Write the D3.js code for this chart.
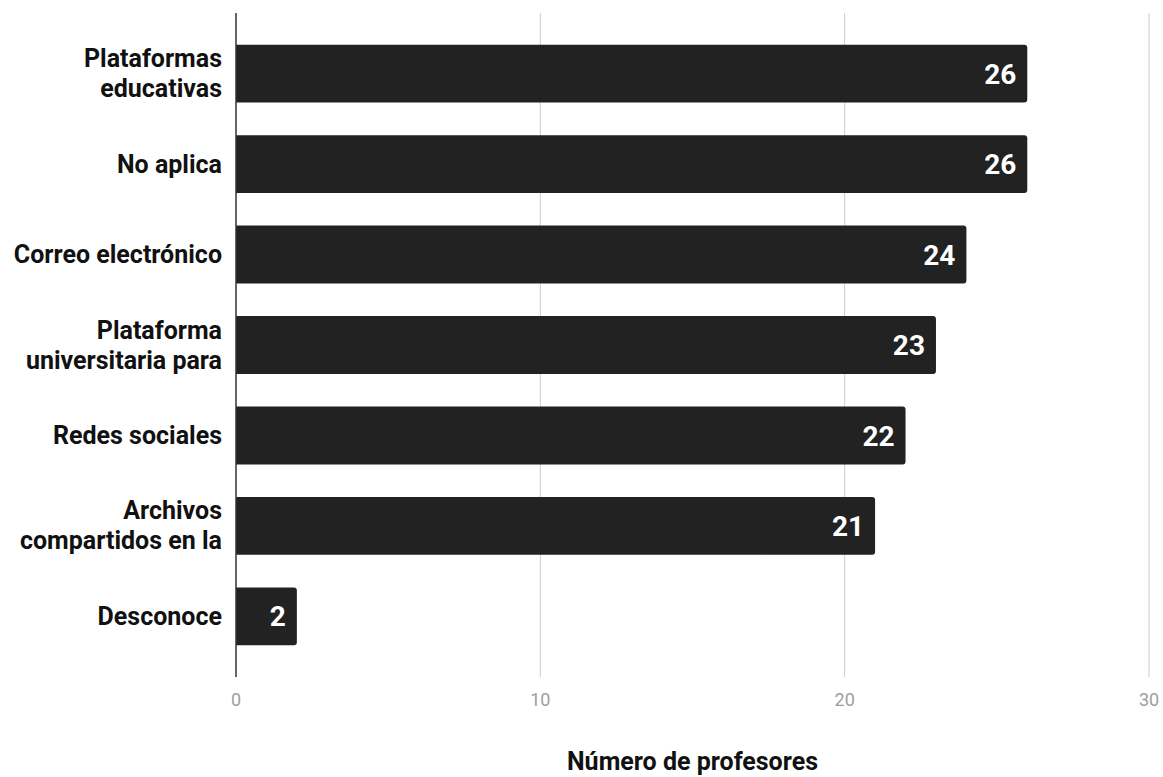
<!DOCTYPE html>
<html>
<head>
<meta charset="utf-8">
<script src="https://cdn.jsdelivr.net/npm/d3@7"></script>
<style>
  html, body { margin: 0; padding: 0; background: #fff; }
  svg { display: block; font-family: Roboto, "Noto Sans", sans-serif; }
</style>
</head>
<body>
<svg id="chart" width="1163" height="777"></svg>
<script>
// Categories (each entry holds the wrapped lines of its label)
const categories = [
  ["Plataformas", "educativas"],
  ["No aplica"],
  ["Correo electrónico"],
  ["Plataforma", "universitaria para"],
  ["Redes sociales"],
  ["Archivos", "compartidos en la"],
  ["Desconoce"]
];
const values = [26, 26, 24, 23, 22, 21, 2];
const xTicks = [0, 10, 20, 30];
const xTitle = "Número de profesores";

(function draw() {
  const svg = d3.select("#chart");
  const plotLeft = 236, plotRight = 1149, plotTop = 13, plotBottom = 677;

  const x = d3.scaleLinear().domain([0, 30]).range([plotLeft, plotRight]);
  const y = d3.scaleBand()
    .domain(d3.range(categories.length))
    .range([plotTop, plotBottom])
    .paddingInner(0.36)
    .paddingOuter(0.35);

  // Vertical gridlines
  svg.append("g")
    .selectAll("line")
    .data(xTicks.filter(t => t !== 0))
    .join("line")
    .attr("x1", d => x(d)).attr("x2", d => x(d))
    .attr("y1", plotTop).attr("y2", plotBottom)
    .attr("stroke", "#cccccc")
    .attr("stroke-width", 1);

  // Bars with rounded right end
  const r = 3;
  function barPath(d, i) {
    const x0 = x(0), x1 = x(d), y0 = y(i), h = y.bandwidth();
    return `M${x0},${y0}H${x1 - r}Q${x1},${y0} ${x1},${y0 + r}V${y0 + h - r}Q${x1},${y0 + h} ${x1 - r},${y0 + h}H${x0}Z`;
  }
  svg.append("g")
    .selectAll("path")
    .data(values)
    .join("path")
    .attr("d", barPath)
    .attr("fill", "#222222");

  // Value labels inside bar ends
  svg.append("g")
    .selectAll("text")
    .data(values)
    .join("text")
    .attr("x", d => x(d) - 11)
    .attr("y", (d, i) => y(i) + y.bandwidth() / 2)
    .attr("dy", "0.36em")
    .attr("text-anchor", "end")
    .attr("fill", "#ffffff")
    .attr("font-weight", 700)
    .attr("font-size", 28)
    .text(d => d);

  // Category labels
  const lineH = 30;
  const catG = svg.append("g");
  categories.forEach((lines, i) => {
    const cy = y(i) + y.bandwidth() / 2;
    const t = catG.append("text")
      .attr("x", 222)
      .attr("text-anchor", "end")
      .attr("fill", "#111111")
      .attr("font-weight", 700)
      .attr("font-size", 25);
    lines.forEach((ln, k) => {
      t.append("tspan")
        .attr("x", 222)
        .attr("y", cy + (k - (lines.length - 1) / 2) * lineH)
        .attr("dy", "0.34em")
        .text(ln);
    });
  });

  // Category axis line
  svg.append("line")
    .attr("x1", plotLeft).attr("x2", plotLeft)
    .attr("y1", plotTop).attr("y2", plotBottom)
    .attr("stroke", "#333333")
    .attr("stroke-width", 1.5);

  // X tick labels
  svg.append("g")
    .selectAll("text")
    .data(xTicks)
    .join("text")
    .attr("x", d => x(d))
    .attr("y", 700)
    .attr("dy", "0.36em")
    .attr("text-anchor", "middle")
    .attr("fill", "#9e9e9e")
    .attr("font-size", 18)
    .text(d => d);

  // X axis title
  svg.append("text")
    .attr("x", (plotLeft + plotRight) / 2)
    .attr("y", 770)
    .attr("text-anchor", "middle")
    .attr("fill", "#111111")
    .attr("font-weight", 700)
    .attr("font-size", 25)
    .text(xTitle);
})();
</script>
</body>
</html>
